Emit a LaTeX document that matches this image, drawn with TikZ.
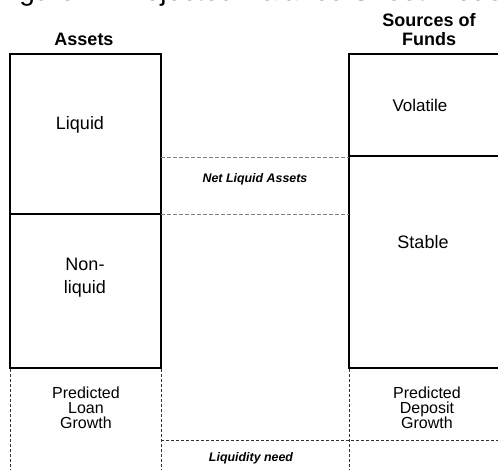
\documentclass[tikz,border=0pt]{standalone}
\usepackage{fontspec}
\setmainfont{Liberation Sans}
\begin{document}
\begin{tikzpicture}[x=1pt, y=-1pt, every node/.style={inner sep=0pt, outer sep=0pt, align=center}, line join=miter,
	box/.style={line width=2pt},
	divider/.style={line width=2.8pt},
	gapline/.style={gray, line width=0.6pt, dash pattern=on 4pt off 2pt},
	growline/.style={black!80, line width=0.6pt, dash pattern=on 3pt off 2pt},
	label/.style={font=\fontsize{18}{23}\selectfont, anchor=base},
	growth/.style={font=\fontsize{16}{15}\selectfont, anchor=base},
	header/.style={font=\bfseries\fontsize{18}{19.5}\selectfont, anchor=base},
	gap/.style={font=\bfseries\itshape\fontsize{12.4}{13}\selectfont, anchor=base}]
	\useasboundingbox (0,0) rectangle (498,470);
	\clip (0,0) rectangle (498,470);
	
	% title, cut at the top
	\node[font=\fontsize{28}{28}\selectfont, anchor=base west] (title) at (-4, 1) {Figure 1: Projected Balance Sheet Model};
	
	% Assets
	\node[header] (assets) at (84, 46) {Assets};
	\draw[box] (10, 54) rectangle (161, 368);
	\draw[divider] (10, 214) -- (161, 214);
	\node[label] (liquid) at (80, 130) {Liquid};
	\node[label] (nonliquid) at (85, 294) {Non-\\liquid};
	
	% Sources of funds
	\node[header] (sources) at (429, 46) {Sources of\\Funds};
	\draw[box] (502, 54) -- (349, 54) -- (349, 368) -- (502, 368);
	\draw[divider] (349, 156) -- (502, 156);
	\node[label, font=\fontsize{17}{20}\selectfont] (volatile) at (420, 112) {Volatile};
	\node[label] (stable) at (423, 249) {Stable};
	
	% Net liquid assets
	\draw[gapline] (161, 157) -- (349, 157);
	\draw[gapline] (161, 214) -- (349, 214);
	\node[gap] (netliquid) at (255, 183) {Net Liquid Assets};
	
	% Growth and liquidity need
	\draw[growline] (10, 369) -- (10, 470);
	\draw[growline] (161, 369) -- (161, 470);
	\draw[growline] (349, 369) -- (349, 470);
	\draw[growline] (161, 440) -- (498, 440);
	\node[growth] (loan) at (86, 428) {Predicted\\Loan\\Growth};
	\node[growth] (deposit) at (427, 428) {Predicted\\Deposit\\Growth};
	\node[gap] (need) at (251, 461) {Liquidity need};
\end{tikzpicture}
\end{document}
